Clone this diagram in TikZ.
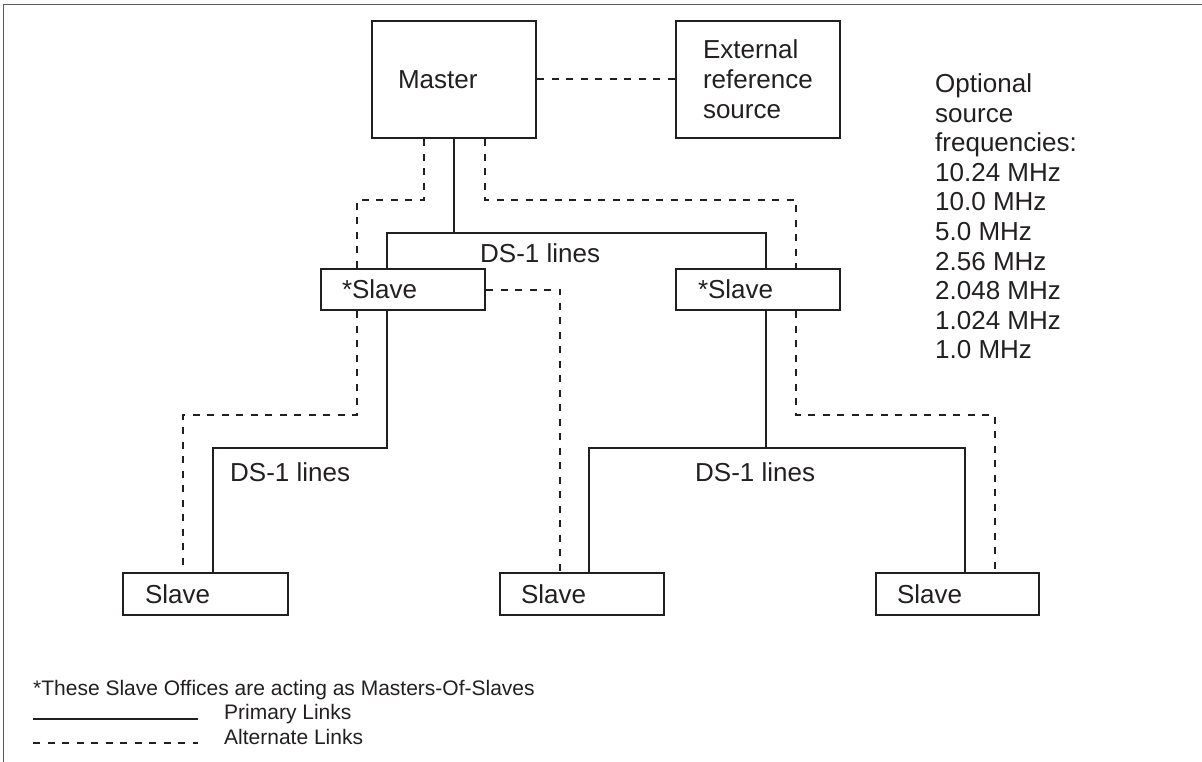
\documentclass[tikz,border=0pt]{standalone}
\usepackage{fontspec}
\setmainfont{Liberation Sans}
\definecolor{ink}{HTML}{231F20}
\begin{document}
\begin{tikzpicture}[x=1pt,y=-1pt,
  every node/.style={text=ink},
  box/.style={draw=ink, line width=2.1pt, rectangle, minimum width=164pt, align=left,
     font=\fontsize{26}{30}\selectfont, inner ysep=0pt},
  bigbox/.style={box, minimum height=117pt, text width=112pt, inner xsep=26pt},
  smallbox/.style={box, minimum height=41pt, text width=122pt, inner xsep=21pt},
  lbl/.style={font=\fontsize{26}{30}\selectfont, inner sep=0pt, anchor=west},
  prim/.style={draw=ink, line width=2pt},
  alt/.style={draw=ink, line width=2pt, dash pattern=on 7pt off 7.5pt},
  legtxt/.style={font=\fontsize{21}{24}\selectfont, inner sep=0pt, anchor=west}]
\useasboundingbox (0,0) rectangle (1202,762);
% frame
\draw[gray!70!black, line width=1pt] (3,762) -- (3,5) -- (1202,5);

% boxes
\node[bigbox] (master) at (454,79.5) {Master};
\node[bigbox, inner xsep=27pt, text width=110pt] (ext) at (758,79.5) {External\\reference\\source};
\node[smallbox] (sl1) at (403,289.5) {*Slave};
\node[smallbox, inner xsep=22pt, text width=120pt] (sl2) at (758,289.5) {*Slave};
\node[smallbox, inner xsep=22pt, text width=121pt, minimum width=165pt, minimum height=42pt] (s1) at (205.5,594) {Slave};
\node[smallbox, inner xsep=21pt, text width=122pt, minimum height=42pt] (s2) at (582,594) {Slave};
\node[smallbox, inner xsep=21pt, text width=121pt, minimum width=163pt, minimum height=42pt] (s3) at (957.5,594) {Slave};

% optional frequencies
\node[font=\fontsize{26}{29.6}\selectfont, align=left, inner sep=0pt, anchor=north west] (opt) at (935,73.5)
  {Optional\\source\\frequencies:\\10.24 MHz\\10.0 MHz\\5.0 MHz\\2.56 MHz\\2.048 MHz\\1.024 MHz\\1.0 MHz};

% labels
\node[lbl] (ds1) at (480,253) {DS-1 lines};
\node[lbl] (ds2) at (230,472) {DS-1 lines};
\node[lbl] (ds3) at (695,472) {DS-1 lines};

% routing points
\coordinate (j1) at (454,233);
\coordinate (busL) at (387,233);
\coordinate (busR) at (766,233);
\coordinate (a1) at (424,200);
\coordinate (a2) at (357,200);
\coordinate (b1) at (485,200);
\coordinate (b2) at (796,200);
\coordinate (c1) at (560,289.5);
\coordinate (d1) at (387,448);
\coordinate (d2) at (213,448);
\coordinate (e1) at (357,415);
\coordinate (e2) at (183,415);
\coordinate (f0) at (766,448);
\coordinate (f1) at (589,448);
\coordinate (f2) at (965,448);
\coordinate (g1) at (796,415);
\coordinate (g2) at (995,415);

% primary links
\draw[prim] (master.south) -- (j1);
\draw[prim] (busL |- sl1.north) -- (busL) -- (busR) -- (busR |- sl2.north);
\draw[prim] (d1 |- sl1.south) -- (d1) -- (d2) -- (d2 |- s1.north);
\draw[prim] (f0 |- sl2.south) -- (f0);
\draw[prim] (f1 |- s2.north) -- (f1) -- (f2) -- (f2 |- s3.north);

% alternate links
\draw[alt] (master.east) -- (ext.west);
\draw[alt] (a1 |- master.south) -- (a1) -- (a2) -- (a2 |- sl1.north);
\draw[alt] (b1 |- master.south) -- (b1) -- (b2) -- (b2 |- sl2.north);
\draw[alt] (sl1.east) -- (c1) -- (c1 |- s2.north);
\draw[alt] (e1 |- sl1.south) -- (e1) -- (e2) -- (e2 |- s1.north);
\draw[alt] (g1 |- sl2.south) -- (g1) -- (g2) -- (g2 |- s3.north);

% legend
\node[legtxt] (note) at (33,690) {*These Slave Offices are acting as Masters-Of-Slaves};
\coordinate (lp1) at (33,719);
\coordinate (lp2) at (198,719);
\coordinate (la1) at (33,743);
\coordinate (la2) at (198,743);
\draw[prim] (lp1) -- (lp2);
\draw[alt] (la1) -- (la2);
\node[legtxt] (ptxt) at (224,714) {Primary Links};
\node[legtxt] (atxt) at (224,737) {Alternate Links};
\end{tikzpicture}
\end{document}
